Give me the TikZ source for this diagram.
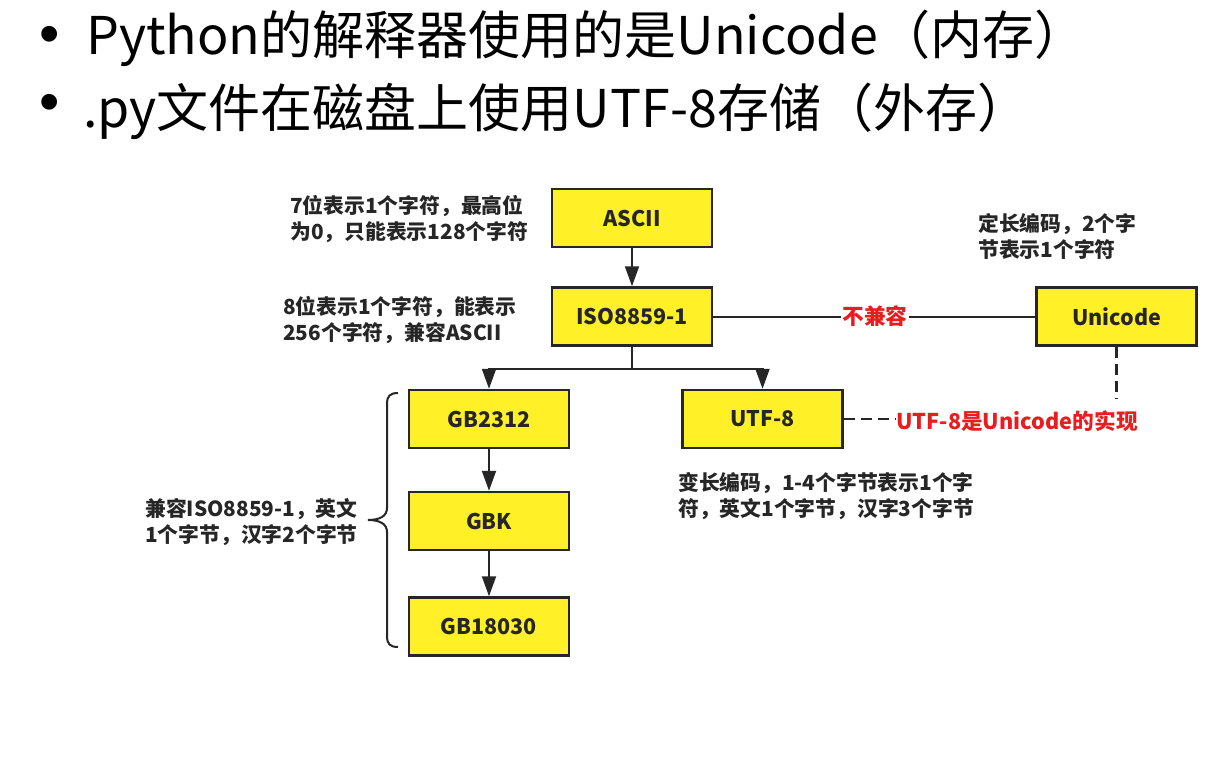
\documentclass[tikz,border=0pt]{standalone}
\usepackage{fontspec}
\setmainfont{Noto Sans CJK SC}
\newfontfamily\bulletfont{Liberation Sans}
\usetikzlibrary{arrows.meta}
\definecolor{boxyellow}{RGB}{255,240,40}
\definecolor{edge}{RGB}{38,38,38}
\definecolor{redtxt}{RGB}{230,30,30}
\begin{document}
\begin{tikzpicture}[x=1pt,y=-1pt,
  box/.style={draw=edge, line width=2.5pt, fill=boxyellow, minimum width=160pt, minimum height=58pt, inner sep=0pt, font=\bfseries\fontsize{21.5}{25}\selectfont, text=edge},
  note/.style={anchor=west, align=left, inner sep=0pt, font=\bfseries\fontsize{20.8}{26}\selectfont, text=edge},
  redlbl/.style={inner sep=0pt, font=\bfseries\fontsize{21.7}{25}\selectfont, text=redtxt},
  arrow/.style={draw=edge, line width=2pt, -{Triangle[length=20pt,width=14pt]}},
  link/.style={draw=edge, line width=2pt},
  dlink/.style={draw=edge, line width=2.5pt, dash pattern=on 11pt off 6pt},
  bullet/.style={inner sep=0pt, font=\bulletfont\fontsize{58}{64}\selectfont, text=black},
  title/.style={anchor=base west, inner sep=0pt, font=\fontsize{52}{60}\selectfont, text=black}]
\useasboundingbox (0,0) rectangle (1231,760);
\fill[white] (0,0) rectangle (1231,760);

% title bullets
\node[bullet] (b1) at (50,40) {•};
\node[bullet] (b2) at (50,108) {•};
\node[title] (l1) at (86,55) {Python的解释器使用的是Unicode（内存）};
\node[title] (l2) at (83,127) {.py文件在磁盘上使用UTF-8存储（外存）};

% boxes
\node[box] (ascii) at (632,218) {ASCII};
\node[box] (iso) at (632,316.5) {ISO8859-1};
\node[box] (uni) at (1116.5,316.5) {Unicode};
\node[box] (gb2312) at (489,419) {GB2312};
\node[box] (utf8) at (762.5,419) {UTF-8};
\node[box] (gbk) at (489,521) {GBK};
\node[box] (gb18030) at (489,626.5) {GB18030};

% notes
\node[note] (n1) at (290,219.5) {7位表示1个字符，最高位\\为0，只能表示128个字符};
\node[note] (n2) at (283,320.5) {8位表示1个字符，能表示\\256个字符，兼容ASCII};
\node[note] (n3) at (978,236.5) {定长编码，2个字\\节表示1个字符};
\node[note] (n4) at (678,496) {变长编码，1-4个字节表示1个字\\符，英文1个字节，汉字3个字节};
\node[note] (n5) at (145,522.5) {兼容ISO8859-1，英文\\1个字节，汉字2个字节};

% red labels
\node[redlbl, fill=white, inner xsep=1pt] (incompat) at (875,316.5) {不兼容};
\node[redlbl, anchor=west] (impl) at (896,421) {UTF-8是Unicode的实现};

% connectors
\draw[arrow] (ascii) -- (iso);
\draw[arrow] (iso.south) -- ++(0,22) -| (gb2312.north);
\draw[arrow] (iso.south) -- ++(0,22) -| (utf8.north);
\draw[arrow] (gb2312) -- (gbk);
\draw[arrow] (gbk) -- (gb18030);
\draw[link] (iso.east) -- (incompat.west);
\draw[link] (incompat.east) -- (uni.west);
\coordinate (uend) at (1116.5,399);
\draw[dlink] (uni.south) -- (uend);
\draw[dlink] (utf8.east) -- (utf8.east -| impl.west);

% brace
\draw[edge, line width=2pt] (398,393) .. controls (390,393) and (387,396) .. (387,404) -- (387,508)
  .. controls (387,516) and (380,520) .. (368,520) .. controls (380,520) and (387,524) .. (387,532)
  -- (387,636) .. controls (387,644) and (390,647) .. (398,647);
\end{tikzpicture}
\end{document}
